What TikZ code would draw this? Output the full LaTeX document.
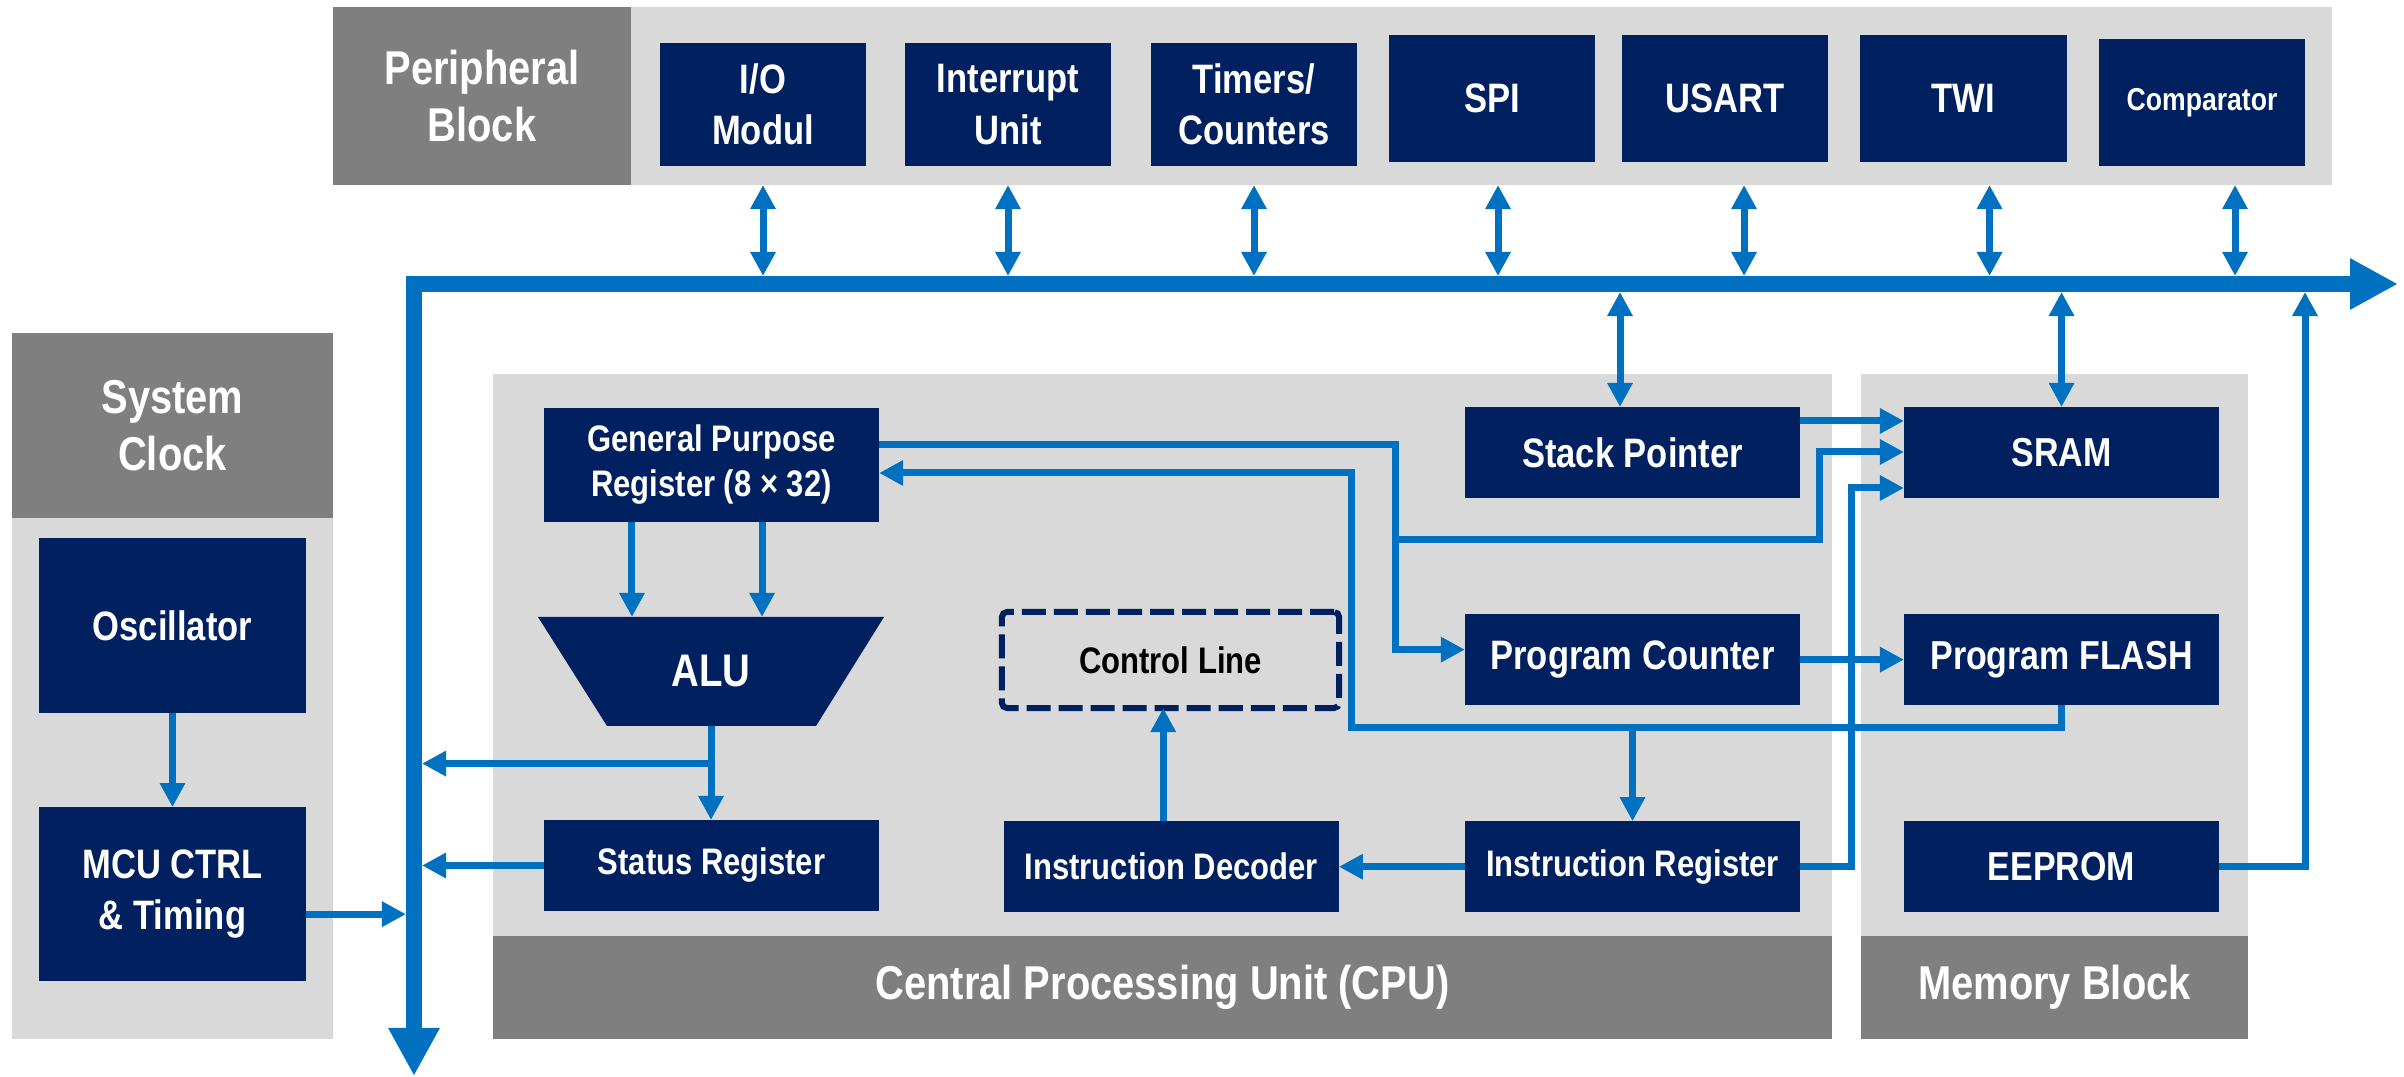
\documentclass[tikz,border=0pt]{standalone}
\usepackage{fontspec}
\setmainfont{Liberation Sans}[FakeStretch=0.84]
\usepackage{tikz}
\usetikzlibrary{positioning,arrows.meta,calc}

\definecolor{navy}{RGB}{0,32,96}
\definecolor{cblue}{RGB}{0,112,192}
\definecolor{lgray}{RGB}{217,217,217}
\definecolor{dgray}{RGB}{127,127,127}

\begin{document}
\begin{tikzpicture}[
  x=0.01cm, y=-0.01cm,
  font=\bfseries,
  node distance=1.16cm and 1.26cm,
  panel/.style={fill=lgray,inner sep=0pt,outer sep=0pt},
  hdr/.style={fill=dgray,text=white,align=center,inner sep=0pt,outer sep=0pt,font=\bfseries\fontsize{13.5}{16.2}\selectfont},
  blk/.style={fill=navy,text=white,align=center,inner sep=0pt,outer sep=0pt,font=\bfseries\fontsize{11.7}{14.6}\selectfont},
  cpub/.style={blk,minimum width=3.35cm,minimum height=0.91cm},
  memb/.style={blk,minimum width=3.15cm,minimum height=0.91cm,font=\bfseries\fontsize{11.5}{14}\selectfont},
  perb/.style={blk,minimum width=2.06cm,minimum height=1.23cm},
  smalltxt/.style={font=\bfseries\fontsize{10.5}{12.8}\selectfont},
  ln/.style={draw=cblue,line width=0.7mm,->},
  dbl/.style={draw=cblue,line width=0.7mm,<->},
  bus/.style={draw=cblue,line width=1.6mm,{Triangle[length=4.8mm,width=4.8mm]}-{Triangle[length=4.8mm,width=4.8mm]}},
  >={Triangle[length=2.4mm,width=2.4mm]}]
\useasboundingbox (0,0) rectangle (2404,1077);

% panels
\node[hdr,minimum width=2.98cm,minimum height=1.78cm] (pb) at (482,96) {Peripheral\\Block};
\node[panel,minimum width=17cm,minimum height=1.78cm,right=0pt of pb] (pp) {};
\node[hdr,minimum width=3.21cm,minimum height=1.85cm] (sc) at (172.5,425.5) {System\\Clock};
\node[panel,minimum width=3.21cm,minimum height=5.21cm,below=0pt of sc] (scp) {};
\node[panel,minimum width=13.39cm,minimum height=5.62cm] (cpu) at (1162.5,655) {};
\node[hdr,minimum width=13.39cm,minimum height=1.03cm,below=0pt of cpu] (cpuf) {Central Processing Unit (CPU)};
\node[panel,minimum width=3.87cm,minimum height=5.62cm] (mem) at (2054.5,655) {};
\node[hdr,minimum width=3.87cm,minimum height=1.03cm,below=0pt of mem] (memf) {Memory Block};

% peripherals
\node[perb] (io) at (763,104.5) {I/O\\Modul};
\node[perb] (intr) at (1008,104.5) {Interrupt\\Unit};
\node[perb] (tmr) at (1254,104.5) {Timers/\\Counters};
\node[perb,minimum height=1.27cm] (spi) at (1492,98.5) {SPI};
\node[perb,minimum height=1.27cm] (usart) at (1725,98.5) {USART};
\node[perb,minimum height=1.27cm] (twi) at (1963.5,98.5) {TWI};
\node[perb,minimum height=1.27cm,font=\bfseries\fontsize{9}{11}\selectfont] (comp) at (2202,102.5) {Comparator};

% clock
\node[blk,minimum width=2.67cm,minimum height=1.75cm] (osc) at (172.5,625.5) {Oscillator};
\node[blk,minimum width=2.67cm,minimum height=1.74cm,below=0.94cm of osc] (mcu) {MCU CTRL\\\& Timing};

% cpu
\node[cpub,smalltxt,minimum height=1.14cm] (gpr) at (711.5,465) {General Purpose\\Register (8 × 32)};
\fill[navy] (538,617) -- (884,617) -- (816,726) -- (607,726) -- cycle;
\node[minimum width=3.46cm,minimum height=1.09cm,inner sep=0pt,outer sep=0pt,text=white,font=\bfseries\fontsize{13}{15}\selectfont] (alu) at (711,671.5) {ALU};
\node[cpub,smalltxt] (status) at (711.5,865.5) {Status Register};
\node[cpub,smalltxt,minimum width=3.37cm,minimum height=0.96cm,fill=none,text=black,draw=navy,line width=0.6mm,dash pattern=on 2.4mm off 0.8mm,rounded corners=0.5mm] (ctrl) at (1170.5,660) {Control Line};
\node[cpub] (sp) at (1632.5,452.5) {Stack Pointer};
\node[cpub,below=of sp] (pc) {Program Counter};
\node[cpub,smalltxt,below=of pc] (ir) {Instruction Register};
\node[cpub,smalltxt,left=of ir] (dec) {Instruction Decoder};

% memory
\node[memb] (sram) at (2061.5,452.5) {SRAM};
\node[memb,below=of sram] (flash) {Program FLASH};
\node[memb,below=of flash] (eeprom) {EEPROM};

% bus
\coordinate (busE) at (2398,284);
\coordinate (busC) at (414,284);
\coordinate (busS) at (414,1076);
\coordinate (busT) at (414,276);
\coordinate (busB) at (414,292);
\coordinate (busL) at (406,284);
\coordinate (busR) at (422,284);
\draw[bus] (busE) -- (busC) -- (busS);

\foreach \n/\dx in {io/0,intr/0,tmr/0,spi/6,usart/19,twi/26,comp/33}
  \draw[dbl] ([xshift=\dx*0.1mm]\n.south |- pp.south) -- ([xshift=\dx*0.1mm]\n.south |- busT);

% routing points
\coordinate (cA) at (1395,540);
\coordinate (cB) at (1351,728);
\coordinate (cC) at (1851,488);
\coordinate (cD) at (1819,452);
\coordinate (cF) at (2305,292);

\draw[ln] ([yshift=2mm]gpr.east) -| (cA) |- ([yshift=1mm]pc.west);
\draw[ln] (cA) -| (cD) -- (sram.west |- cD);
\draw[ln] (flash.south) |- (cB) |- ([yshift=-0.8mm]gpr.east);
\draw[ln] (ir.north |- cB) -- (ir.north);
\draw[ln] (ir.east) -| (cC) -- (sram.west |- cC);
\draw[ln] ([yshift=3.15mm]sp.east) -- ([yshift=3.15mm]sp.east -| sram.west);
\draw[ln] (pc) -- (flash);
\draw[ln] (ir) -- (dec);
\draw[ln] ([xshift=-0.8mm]dec.north) -- ([xshift=-0.8mm]dec.north |- ctrl.south);
\foreach \dx in {-7.95,5.05}
  \draw[ln] ([xshift=\dx mm]gpr.south) -- ([xshift=\dx mm]gpr.south |- alu.north);
\draw[ln] (alu.south) -- (alu.south |- status.north);
\coordinate (aluS) at ($(alu.south)!.4!(status.north)$);
\draw[ln] (aluS) -- (aluS -| busR);
\draw[ln] (status.west) -- (status.west -| busR);
\draw[ln] (osc) -- (mcu);
\draw[ln] ([yshift=-2mm]mcu.east) -- ([yshift=-2mm]mcu.east -| busL);
\draw[ln] (eeprom.east) -| (cF);
\draw[dbl] ([xshift=-1.25mm]sp.north |- busB) -- ([xshift=-1.25mm]sp.north);
\draw[dbl] (sram.north |- busB) -- (sram.north);
\end{tikzpicture}
\end{document}
